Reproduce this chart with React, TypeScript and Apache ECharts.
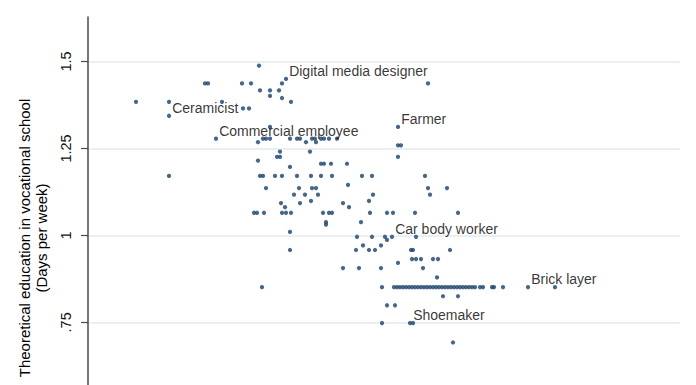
import React, { useEffect, useRef } from "react";
import * as echarts from "echarts";

// y level (days per week) and the x positions of the occupations at that level
const ROW_Y: number[] = [
  1.488, 1.437, 1.417, 1.401, 1.395, 1.384, 1.365, 1.312, 1.278, 1.268, 1.259, 1.241, 1.226, 1.215,
  1.206, 1.197, 1.171, 1.145, 1.136, 1.117, 1.099, 1.093, 1.081, 1.065, 1.038, 1.031, 1.01, 0.996,
  0.987, 0.971, 0.958, 0.932, 0.921, 0.906, 0.879, 0.851, 0.825, 0.799, 0.748, 0.692,
];
const ROW_X: number[][] = [
  [42.75],
  [29.25, 30, 38.5, 40.75, 48.5, 85],
  [43, 45.5, 47.75],
  [45.5],
  [48.5],
  [12, 20.25, 33.5, 50.75],
  [38.75, 40.25],
  [45.5],
  [43.75, 44.5, 45.5, 50.5, 52.25, 53, 56, 56.75, 58.25, 59, 60.25, 62.25],
  [42.5, 54.5, 57],
  [77.5, 78.25],
  [48, 55.5],
  [47.25, 48, 77.5],
  [42.5],
  [58.25, 59, 60.75, 64.75],
  [50.5],
  [20.25, 43, 43.75, 46.75, 48.5, 52.25, 55.75, 58.25, 61, 68.5, 71, 84.25],
  [65],
  [44.5, 52.75, 56, 57, 85, 89.75],
  [51.5, 54.25, 57.5, 71.25, 85.5],
  [55.75, 70.25],
  [48.25, 53, 63.75],
  [49.25, 65.25],
  [41.5, 42.25, 44, 48.5, 49.5, 50.75, 58.75, 60.25, 61, 70.5, 74.75, 76.25, 81.75, 92.5],
  [59.5, 68.25],
  [59.5],
  [50.5],
  [67.25, 71, 74.25, 82],
  [74.75],
  [68.75, 73.25],
  [50.5, 67, 70.25, 71.75, 80.75, 81.25, 90.5],
  [81, 82, 83.25, 86.25, 87.5],
  [77.5],
  [63.75, 67.75, 73.25, 83.75],
  [87.25],
  [
    43.5, 73.5, 76.5, 77.25, 78, 78.75, 79.5, 80.25, 81, 81.75, 82.5, 83.25, 84, 84.75, 85.5, 86.25,
    87, 87.75, 88.5, 89.25, 90, 90.75, 91.5, 92.25, 93, 93.75, 94.5, 95.25, 96, 96.75, 98, 98.75,
    101, 101.5, 103.75, 116.75,
  ],
  [88.75, 92.5],
  [74.75, 76.75],
  [73.5, 81.25],
  [91.25],
];

const LABEL_NAMES = [
  "Digital media designer",
  "Ceramicist",
  "Farmer",
  "Commercial employee",
  "Car body worker",
  "Brick layer",
  "Shoemaker",
];
const LABEL_X = [49.5, 20.25, 77.5, 32, 76, 110, 80.5];
const LABEL_Y = [1.45, 1.344, 1.312, 1.278, 0.996, 0.851, 0.748];

const Y_TICKS = [0.75, 1, 1.25, 1.5];
const Y_TITLE = "Theoretical education in vocational school\n(Days per week)";

const FONT = "'Liberation Sans', Arial, Helvetica, sans-serif";
const DOT = "#1a426b";

export default function App() {
  const ref = useRef<HTMLDivElement>(null);
  useEffect(() => {
    document.body.style.margin = "0";
    if (!ref.current) return;
    const chart = echarts.init(ref.current, null, { renderer: "svg" });
    const points: number[][] = [];
    ROW_Y.forEach((y, i) => ROW_X[i].forEach((x) => points.push([x, y])));
    const labeled = LABEL_NAMES.map((n, i) => ({ value: [LABEL_X[i], LABEL_Y[i]], name: n }));
    chart.setOption({
      animation: false,
      grid: { left: 86, right: 16, top: 17, bottom: 21, containLabel: false },
      xAxis: {
        type: "value",
        min: -0.5,
        max: 148,
        show: false,
      },
      yAxis: {
        type: "value",
        min: 0.357,
        max: 1.628,
        name: Y_TITLE,
        nameLocation: "middle",
        nameGap: 34,
        nameTextStyle: { fontFamily: FONT, fontSize: 15, color: "#000", lineHeight: 17 },
        axisLine: { show: true, lineStyle: { color: "#4a4a4a", width: 1.5 } },
        axisTick: {
          show: true,
          length: 7,
          customValues: Y_TICKS,
          lineStyle: { color: "#4a4a4a", width: 1.2 },
        },
        axisLabel: {
          customValues: Y_TICKS,
          rotate: 90,
          margin: 13,
          fontFamily: FONT,
          fontSize: 14.5,
          color: "#111",
          formatter: (v: number) => (v === 0.75 ? ".75" : String(v)),
        },
        splitLine: { show: false },
      },
      series: [
        {
          type: "line",
          data: [],
          silent: true,
          z: 0,
          markLine: {
            silent: true,
            symbol: "none",
            z: 0,
            label: { show: false },
            lineStyle: { color: "#e3ebee", width: 1.6, type: "solid" },
            data: Y_TICKS.map((t) => ({ yAxis: t })),
          },
        },
        {
          type: "scatter",
          data: points,
          symbolSize: 4.3,
          z: 5,
          itemStyle: { color: DOT },
        },
        {
          type: "scatter",
          data: labeled,
          symbolSize: 4.3,
          z: 6,
          itemStyle: { color: DOT },
          label: {
            show: true,
            position: "right",
            distance: 1,
            offset: [0, -8],
            formatter: (p: any) => p.name,
            fontFamily: FONT,
            fontSize: 14,
            color: "#000",
          },
        },
      ],
    });
    return () => chart.dispose();
  }, []);
  return (
    <div style={{ width: 696, height: 385, overflow: "hidden" }}>
      <div ref={ref} style={{ width: 696, height: 480 }} />
    </div>
  );
}
